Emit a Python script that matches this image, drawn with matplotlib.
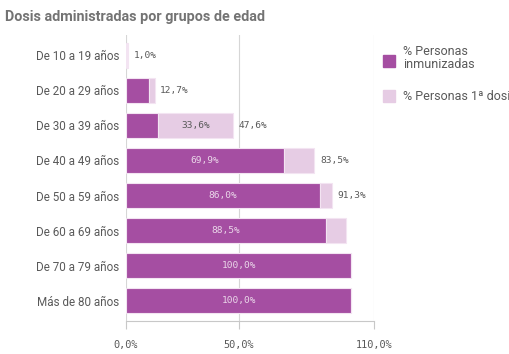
# Dosis administradas por grupos de edad
import matplotlib.pyplot as plt
from matplotlib.patches import Rectangle

categorias = ["De 10 a 19 años", "De 20 a 29 años", "De 30 a 39 años", "De 40 a 49 años",
              "De 50 a 59 años", "De 60 a 69 años", "De 70 a 79 años", "Más de 80 años"]
inmunizadas = [0.4, 10.2, 14.0, 69.9, 86.0, 88.5, 100.0, 100.0]
primera_dosis = [1.0, 12.7, 47.6, 83.5, 91.3, 97.8, 100.0, 100.0]
series = ["% Personas\ninmunizadas", "% Personas 1ª dosis"]
xticks = [0, 50, 110]

oscuro = '#a54ea2'
claro = '#e6cce4'
borde = '#f3e4f2'
gris = '#595959'
mono = 'DejaVu Sans Mono'


def fmt(v):
    return f"{v:.1f}".replace('.', ',') + '%'


fig = plt.figure(figsize=(5.1, 3.54), dpi=100)
ax = fig.add_axes([126 / 510, 1 - 321 / 354, 248 / 510, 286 / 354])

y = list(range(len(categorias)))
resto = [p - i for p, i in zip(primera_dosis, inmunizadas)]
ax.barh(y, inmunizadas, height=0.71, color=oscuro, edgecolor=borde, linewidth=0.8, zorder=3)
ax.barh(y, resto, left=inmunizadas, height=0.71, color=claro, edgecolor=borde, linewidth=0.8, zorder=3)

for i in y:
    if inmunizadas[i] > 20:
        ax.text(inmunizadas[i] / 2, i, fmt(inmunizadas[i]), ha='center', va='center',
                color='#ead7e9', fontsize=6.8, family=mono, zorder=4)
    if resto[i] > 20:
        ax.text(inmunizadas[i] + resto[i] / 2, i, fmt(resto[i]), ha='center', va='center',
                color=gris, fontsize=6.8, family=mono, zorder=4)
    if resto[i] > 0 and primera_dosis[i] < 95:
        ax.text(primera_dosis[i] + 2.5, i, fmt(primera_dosis[i]), ha='left', va='center',
                color=gris, fontsize=6.8, family=mono, zorder=4)

ax.set_xlim(0, 110)
ax.set_ylim(len(categorias) - 0.43, -0.57)
ax.set_yticks(y)
ax.set_yticklabels(categorias, fontsize=8.4, color=gris, family='Roboto')
ax.tick_params(axis='y', length=0, pad=5)
ax.set_xticks(xticks)
ax.set_xticklabels([fmt(v) for v in xticks], fontsize=7.4, color=gris, family=mono)
ax.tick_params(axis='x', length=6, width=0.8, color='#c8c8c8', pad=8)
ax.grid(axis='x', color='#d6d6d6', linewidth=0.8, zorder=0)
for s in ['top', 'right', 'left']:
    ax.spines[s].set_visible(False)
ax.spines['bottom'].set_color('#c8c8c8')
ax.spines['bottom'].set_linewidth(0.8)

# titulo
fig.text(5 / 510, 1 - 17 / 354, 'Dosis administradas por grupos de edad', fontsize=10.4,
         fontweight='bold', color='#737373', family='Roboto', va='center', ha='left')

# leyenda (el texto de la segunda entrada queda cortado en el borde, como en el original)
cuadros = [55, 90]
for k, (nombre, col) in enumerate(zip(series, [oscuro, claro])):
    fig.patches.append(Rectangle((383 / 510, 1 - (cuadros[k] + 12) / 354), 12 / 510, 12 / 354,
                                 color=col, transform=fig.transFigure, figure=fig))
fig.text(403 / 510, 1 - 45 / 354, series[0], fontsize=9, color=gris, family='Roboto',
         va='top', ha='left', linespacing=1.05)
fig.text(403 / 510, 1 - 97 / 354, series[1], fontsize=9, color=gris, family='Roboto',
         va='center', ha='left')

plt.savefig('out.png', dpi=100)
